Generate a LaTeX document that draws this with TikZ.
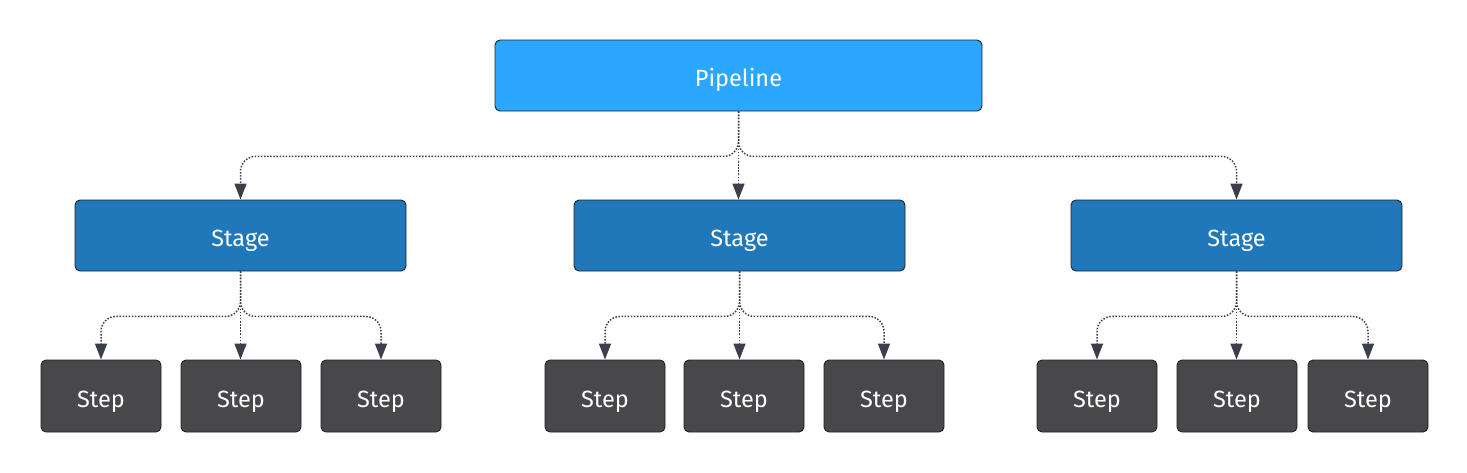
\documentclass[tikz,border=0pt]{standalone}
\usepackage{fontspec}
\setmainfont{Fira Sans}
\usetikzlibrary{arrows.meta}
\definecolor{pipec}{HTML}{2CA7FF}
\definecolor{stagec}{HTML}{2077B9}
\definecolor{stepc}{HTML}{48484A}
\definecolor{edgec}{HTML}{3B3F4A}
\definecolor{borderc}{HTML}{1E2228}
\begin{document}
\begin{tikzpicture}[x=1pt,y=-1pt,
  box/.style={draw=borderc,line width=0.9pt,rounded corners=5pt,text=white,
    font=\fontsize{23.5}{26}\selectfont,inner sep=0pt,text height=22pt,text depth=0pt},
  pipebox/.style={box,fill=pipec,minimum width=487pt,minimum height=71pt},
  stagebox/.style={box,fill=stagec,minimum width=331pt,minimum height=71pt},
  stepbox/.style={box,fill=stepc,minimum width=120pt,minimum height=72pt},
  link/.style={draw=edgec,line width=1.5pt,dash pattern=on 1.5pt off 1.6pt,
    rounded corners=15pt,-{Triangle[length=16pt,width=12pt,fill=edgec]}},
]
\useasboundingbox (0,0) rectangle (1467,472);
\node[pipebox] (p) at (738.5,75.5) {Pipeline};
\node[stagebox] (s1) at (240.5,235.5) {Stage};
\node[stagebox] (s2) at (739.5,235.5) {Stage};
\node[stagebox] (s3) at (1236.5,235.5) {Stage};
\node[stepbox] (t11) at (101,396) {Step};
\node[stepbox] (t12) at (241,396) {Step};
\node[stepbox] (t13) at (381,396) {Step};
\node[stepbox] (t21) at (605,396) {Step};
\node[stepbox] (t22) at (744,396) {Step};
\node[stepbox] (t23) at (884,396) {Step};
\node[stepbox] (t31) at (1097,396) {Step};
\node[stepbox] (t32) at (1237,396) {Step};
\node[stepbox] (t33) at (1368,396) {Step};
% pipeline to stages
\draw[link] (p.south) -- ++(0,45) -| (s1.north);
\draw[link] (p.south) -- (p.south |- s2.north);
\draw[link] (p.south) -- ++(0,45) -| (s3.north);
% stages to steps
\foreach \s/\a/\b/\c in {s1/t11/t12/t13, s2/t21/t22/t23, s3/t31/t32/t33}{
  \draw[link] (\s.south) -- ++(0,45) -| (\a.north);
  \draw[link] (\s.south) -- (\s.south |- \b.north);
  \draw[link] (\s.south) -- ++(0,45) -| (\c.north);
}
\end{tikzpicture}
\end{document}
